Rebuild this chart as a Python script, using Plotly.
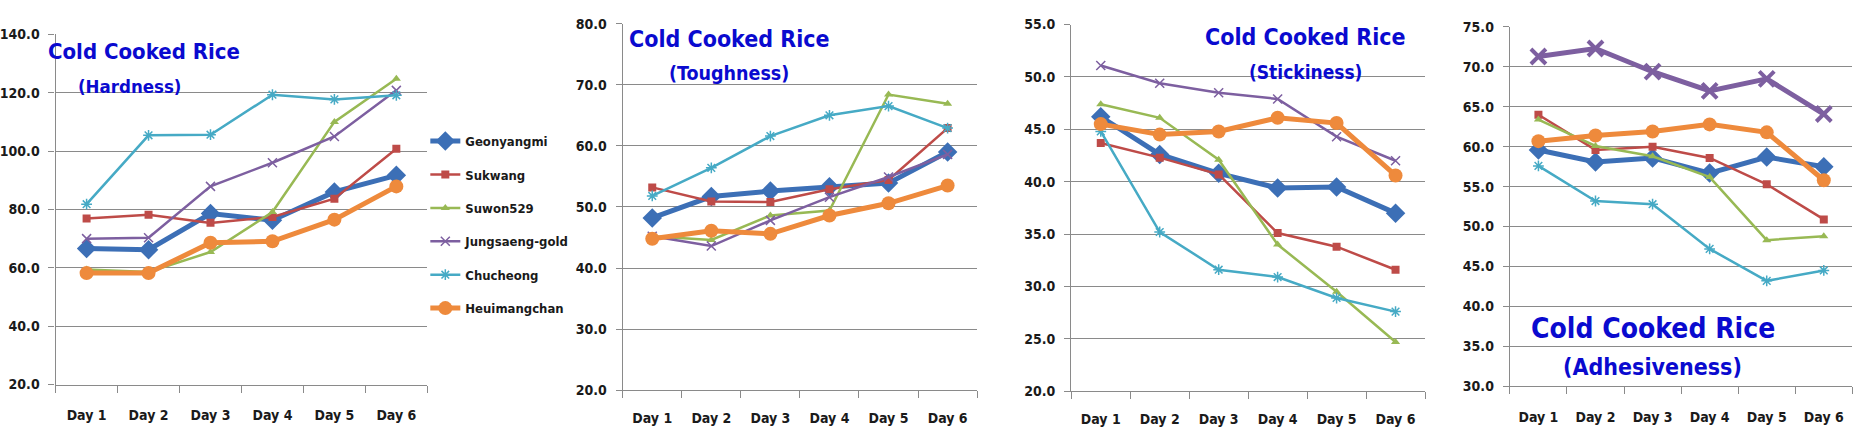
import plotly.graph_objects as go

W, H = 1873, 443

days = ["Day 1", "Day 2", "Day 3", "Day 4", "Day 5", "Day 6"]
varieties = ["Geonyangmi", "Sukwang", "Suwon529", "Jungsaeng-gold", "Chucheong", "Heuimangchan"]

hardness = {
    "Geonyangmi":     [66.6, 66.2, 78.6, 76.3, 86.0, 91.7],
    "Sukwang":        [76.9, 78.2, 75.4, 77.4, 83.7, 100.8],
    "Suwon529":       [59.4, 58.6, 65.4, 79.1, 110.0, 124.8],
    "Jungsaeng-gold": [70.0, 70.3, 87.9, 96.0, 105.0, 120.8],
    "Chucheong":      [81.8, 105.4, 105.6, 119.3, 117.7, 119.1],
    "Heuimangchan":   [58.2, 58.2, 68.6, 69.1, 76.5, 87.9],
}
toughness = {
    "Geonyangmi":     [48.2, 51.7, 52.6, 53.3, 53.9, 59.0],
    "Sukwang":        [53.2, 50.9, 50.8, 52.9, 54.4, 62.9],
    "Suwon529":       [45.2, 44.6, 48.6, 49.4, 68.4, 66.9],
    "Jungsaeng-gold": [45.2, 43.6, 47.8, 51.6, 54.9, 58.6],
    "Chucheong":      [51.8, 56.4, 61.6, 65.0, 66.5, 62.9],
    "Heuimangchan":   [44.8, 46.1, 45.6, 48.6, 50.6, 53.5],
}
stickiness = {
    "Geonyangmi":     [46.2, 42.6, 40.8, 39.4, 39.5, 37.0],
    "Sukwang":        [43.7, 42.3, 40.7, 35.1, 33.8, 31.6],
    "Suwon529":       [47.4, 46.1, 42.1, 34.0, 29.5, 24.7],
    "Jungsaeng-gold": [51.1, 49.4, 48.5, 47.9, 44.3, 42.0],
    "Chucheong":      [44.8, 35.2, 31.6, 30.9, 28.9, 27.6],
    "Heuimangchan":   [45.5, 44.5, 44.8, 46.1, 45.6, 40.6],
}
adhesiveness = {
    "Geonyangmi":     [59.6, 58.1, 58.6, 56.7, 58.7, 57.5],
    "Sukwang":        [64.0, 59.6, 60.0, 58.6, 55.3, 50.9],
    "Suwon529":       [63.4, 60.1, 58.8, 56.2, 48.3, 48.8],
    "Jungsaeng-gold": [71.3, 72.3, 69.4, 67.0, 68.5, 64.1],
    "Chucheong":      [57.6, 53.2, 52.8, 47.2, 43.2, 44.5],
    "Heuimangchan":   [60.7, 61.4, 61.9, 62.8, 61.8, 55.8],
}

titles = ["(Hardness)", "(Toughness)", "(Stickiness)", "(Adhesiveness)"]
y_ranges = [(20, 140, 20), (20, 80, 10), (20, 55, 5), (30, 75, 5)]

colors = {
    "Geonyangmi": "#3C6FB6", "Sukwang": "#BE4B48", "Suwon529": "#98B954",
    "Jungsaeng-gold": "#7D5FA0", "Chucheong": "#46AAC5", "Heuimangchan": "#EE8A3C",
}
symbols = {
    "Geonyangmi": "diamond", "Sukwang": "square", "Suwon529": "triangle-up",
    "Jungsaeng-gold": "x-thin", "Chucheong": "asterisk", "Heuimangchan": "circle",
}

FONT = "DejaVu Sans Condensed, Liberation Sans, sans-serif"
GRID = "#8a8a8a"

# panel geometry in pixels: (left, right, top, bottom, x-label standoff)
panels_px = [
    (52.7, 425.0, 27.3, 390.7, 17),
    (620.7, 975.7, 16.2, 396.6, 15),
    (1070.0, 1424.3, 17.2, 397.6, 15),
    (1509.3, 1852.3, 19.7, 392.4, 18),
]
thick_sets = [
    {"Geonyangmi", "Heuimangchan"},
    {"Geonyangmi", "Heuimangchan"},
    {"Geonyangmi", "Heuimangchan"},
    {"Geonyangmi", "Heuimangchan", "Jungsaeng-gold"},
]
datasets = [hardness, toughness, stickiness, adhesiveness]

fig = go.Figure()

for i, (data, thick) in enumerate(zip(datasets, thick_sets)):
    xa = "x" if i == 0 else f"x{i+1}"
    ya = "y" if i == 0 else f"y{i+1}"
    for name in varieties:
        is_thick = name in thick
        sym = symbols[name]
        if sym in ("x-thin", "asterisk"):
            mk = dict(symbol=sym, size=15 if is_thick else 9, color=colors[name],
                      line=dict(color=colors[name], width=4 if is_thick else 1.5))
        else:
            mk = dict(symbol=sym, size=(15 if sym == "diamond" else 14) if is_thick else 8,
                      color=colors[name], line=dict(width=0))
        fig.add_trace(go.Scatter(
            x=days, y=data[name], mode="lines+markers", name=name,
            line=dict(color=colors[name], width=5 if is_thick else 2.5),
            marker=mk, xaxis=xa, yaxis=ya,
            legendgroup=name, showlegend=(i == 0),
        ))

layout_axes = {}
for i, ((l, r, t, b, so), (y0, y1, dt)) in enumerate(zip(panels_px, y_ranges)):
    sx = "xaxis" if i == 0 else f"xaxis{i+1}"
    sy = "yaxis" if i == 0 else f"yaxis{i+1}"
    layout_axes[sx] = dict(
        domain=[l / W, r / W], anchor="y" if i == 0 else f"y{i+1}",
        type="category", range=[-0.5, 5.5], tickson="boundaries",
        ticks="outside", ticklen=7, tickcolor=GRID, tickwidth=1.3,
        showline=True, linecolor=GRID, linewidth=1.3, showgrid=False,
        tickfont=dict(family=FONT, size=14, color="#1a1a1a", weight="bold"),
        ticklabelstandoff=so, fixedrange=True,
    )
    layout_axes[sy] = dict(
        domain=[1 - b / H, 1 - t / H], anchor="x" if i == 0 else f"x{i+1}",
        range=[y0, y1], dtick=dt, tick0=y0, tickformat=".1f",
        ticks="outside", ticklen=6, tickcolor=GRID, tickwidth=1.3,
        showline=True, linecolor=GRID, linewidth=1.3,
        showgrid=True, gridcolor=GRID, gridwidth=1.3, zeroline=False,
        tickfont=dict(family=FONT, size=14, color="#1a1a1a", weight="bold"),
        ticklabelstandoff=6, fixedrange=True,
    )

# title annotations: (title center x, y, size, subtitle center x, y, size)
title_pos = [
    (141.5, 44.9, 22, 126.5, 81.2, 18.5),
    (727.5, 31.9, 23, 727.3, 68.2, 19.5),
    (1304.3, 30.4, 23, 1304.8, 66.4, 19),
    (1652.3, 332.8, 28, 1652.5, 372.4, 23),
]
annotations = []
for (tx, ty, ts, sx_, sy_, ss), sub in zip(title_pos, titles):
    annotations.append(dict(text="Cold Cooked Rice", x=tx / W, y=1 - ty / H, xref="paper", yref="paper",
                            xanchor="center", yanchor="middle", showarrow=False,
                            font=dict(family=FONT, size=ts, color="#0A0ACF", weight="bold")))
    annotations.append(dict(text=sub, x=sx_ / W, y=1 - sy_ / H, xref="paper", yref="paper",
                            xanchor="center", yanchor="middle", showarrow=False,
                            font=dict(family=FONT, size=ss, color="#0A0ACF", weight="bold")))

fig.update_layout(
    width=W, height=H, margin=dict(l=0, r=0, t=0, b=0),
    paper_bgcolor="white", plot_bgcolor="white",
    showlegend=True,
    legend=dict(x=423 / W, y=1 - 122.6 / H, xanchor="left", yanchor="top",
                traceorder="grouped", tracegroupgap=13.5,
                font=dict(family=FONT, size=13, color="#1a1a1a", weight="bold"),
                bgcolor="rgba(0,0,0,0)", itemwidth=30),
    annotations=annotations,
    **layout_axes,
)

fig.write_html("out.html")
